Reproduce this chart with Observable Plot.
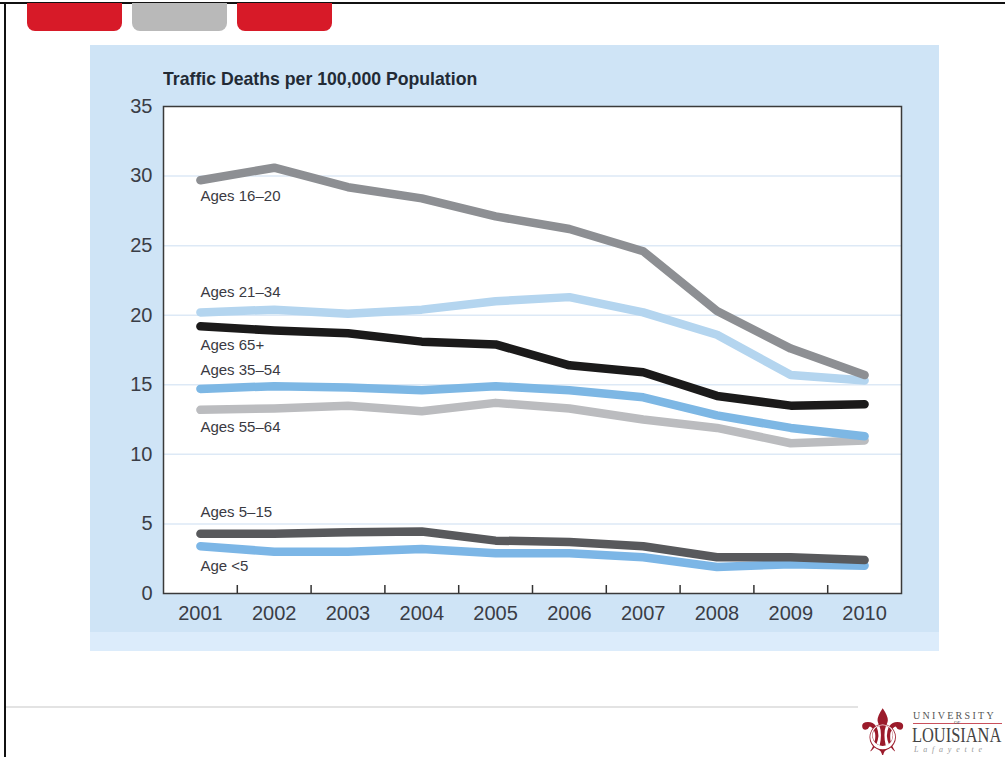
<!DOCTYPE html>
<html>
<head>
<meta charset="utf-8">
<script src="https://cdn.jsdelivr.net/npm/d3@7"></script>
<script src="https://cdn.jsdelivr.net/npm/@observablehq/plot@0.6"></script>
<style>
  html, body { margin: 0; padding: 0; background: #fff; }
  body { width: 1005px; height: 757px; position: relative; overflow: hidden; font-family: "Liberation Sans", Arial, sans-serif; }
  .abs { position: absolute; }
  #topline { left: 0; top: 2px; width: 1005px; height: 2px; background: #111; }
  #leftline { left: 4px; top: 2px; width: 2px; height: 755px; background: #111; }
  .tab { top: 3px; height: 28px; width: 95px; border-radius: 0 0 8px 8px; }
  #panel { left: 90px; top: 45px; width: 849px; height: 606px; background: #cfe4f6; }
  #strip { left: 90px; top: 632px; width: 849px; height: 19px; background: #dcecfb; }
  #title { left: 163px; top: 68px; font-weight: bold; font-size: 19px; color: #222a35; white-space: nowrap; transform: scaleX(0.93); transform-origin: left top; }
  #chart { left: 90px; top: 45px; }
  #bottomline { left: 6px; top: 706px; width: 852px; height: 2px; background: #e3e3e3; }
  #fleur { left: 854px; top: 710px; height: 46px; font-family: "DejaVu Sans", sans-serif; font-size: 64px; color: #9b1b2b; line-height: 46px; }
  .logo { font-family: "Liberation Serif", "DejaVu Serif", serif; white-space: nowrap; transform-origin: left top; }
</style>
</head>
<body>
<div class="abs" id="topline"></div>
<div class="abs" id="leftline"></div>
<div class="abs tab" style="left:27px;background:#d71a28"></div>
<div class="abs tab" style="left:132px;background:#b9b9b9"></div>
<div class="abs tab" style="left:237px;background:#d71a28"></div>
<div class="abs" id="panel"></div>
<div class="abs" id="strip"></div>
<div class="abs" id="title">Traffic Deaths per 100,000 Population</div>
<div class="abs" id="chart"></div>
<div class="abs" id="bottomline"></div>
<div class="abs" id="fleur">⚜</div>
<div class="abs logo" style="left:913px;top:710px;font-size:10px;letter-spacing:2.3px;color:#555">UNIVERSITY</div>
<div class="abs" style="left:913px;top:723px;width:89px;height:1px;background:#c9505c"></div>
<div class="abs logo" style="left:954px;top:720px;font-size:5px;color:#555">OF</div>
<div class="abs logo" style="left:912px;top:724px;font-size:20px;color:#444;transform:scaleX(0.82)">LOUISIANA</div>
<div class="abs logo" style="left:914px;top:745px;font-size:8px;font-style:italic;letter-spacing:4.8px;color:#999">Lafayette</div>
<script>
// ---- data ----
const years = [2001, 2002, 2003, 2004, 2005, 2006, 2007, 2008, 2009, 2010];
const seriesNames = ["Age <5", "Ages 5\u201315", "Ages 55\u201364", "Ages 35\u201354", "Ages 65+", "Ages 21\u201334", "Ages 16\u201320"];
const ageUnder5  = [3.4, 3.0, 3.0, 3.2, 2.9, 2.9, 2.6, 1.9, 2.1, 2.0];
const ages5_15   = [4.3, 4.3, 4.4, 4.45, 3.8, 3.7, 3.4, 2.6, 2.6, 2.4];
const ages55_64  = [13.2, 13.3, 13.5, 13.1, 13.7, 13.3, 12.5, 11.9, 10.8, 11.0];
const ages35_54  = [14.7, 14.9, 14.8, 14.6, 14.9, 14.6, 14.1, 12.8, 11.9, 11.3];
const ages65plus = [19.2, 18.9, 18.7, 18.1, 17.9, 16.4, 15.9, 14.2, 13.5, 13.6];
const ages21_34  = [20.2, 20.4, 20.1, 20.4, 21.0, 21.3, 20.2, 18.6, 15.7, 15.3];
const ages16_20  = [29.7, 30.6, 29.2, 28.4, 27.1, 26.2, 24.6, 20.3, 17.6, 15.7];
const seriesValues = [ageUnder5, ages5_15, ages55_64, ages35_54, ages65plus, ages21_34, ages16_20];
const yTicks = [0, 5, 10, 15, 20, 25, 30, 35];

// ---- styles ----
const colors = ["#7cb6e6", "#58595c", "#bbbcbf", "#7db7e4", "#1b1a1a", "#b4d5ef", "#8d8f93"];
const labelDy = [20, -21, 17, -19, 19, -20, 16];

// ---- build table ----
const rows = [];
seriesNames.forEach((s, i) => years.forEach((yr, j) => rows.push({series: s, year: yr, value: seriesValues[i][j]})));
const labelRows = seriesNames.map((s, i) => ({series: s, year: years[0], value: seriesValues[i][0], dy: labelDy[i]}));
const bounds = years.slice(0, -1).map(y => y + 0.5);
const tickFont = {fontSize: 20, fill: "#3a3d46"};

const plot = Plot.plot({
  width: 849,
  height: 587,
  marginLeft: 73,
  marginRight: 38,
  marginTop: 61,
  marginBottom: 39,
  style: {background: "transparent", fontFamily: '"Liberation Sans", Arial, sans-serif'},
  x: {domain: [years[0] - 0.5, years[years.length - 1] + 0.5]},
  y: {domain: [yTicks[0], yTicks[yTicks.length - 1]]},
  color: {domain: seriesNames, range: colors},
  marks: [
    Plot.frame({fill: "white", stroke: null}),
    Plot.ruleY(yTicks.slice(1, -1), {stroke: "#dde9f6", strokeWidth: 1.5}),
    ...seriesNames.map(s => Plot.line(rows.filter(r => r.series === s), {x: "year", y: "value", stroke: "series", strokeWidth: 8.5, strokeLinejoin: "round"})),
    ...labelRows.map(l => Plot.text([l], {x: "year", y: "value", text: "series", dy: l.dy, textAnchor: "start", fontSize: 15, fill: "#3a3a42"})),
    Plot.ruleX(bounds, {x: d => d, y1: 0, y2: 0, insetTop: -8, stroke: "#333", strokeWidth: 1.5}),
    Plot.frame({stroke: "#3a3a3a", strokeWidth: 1.5}),
    Plot.axisY(yTicks, {tickSize: 0, tickPadding: 11, label: null, ...tickFont}),
    Plot.axisX(years, {tickSize: 0, tickPadding: 12, label: null, tickFormat: d => String(d), ...tickFont})
  ]
});
document.getElementById("chart").appendChild(plot);
</script>
</body>
</html>
